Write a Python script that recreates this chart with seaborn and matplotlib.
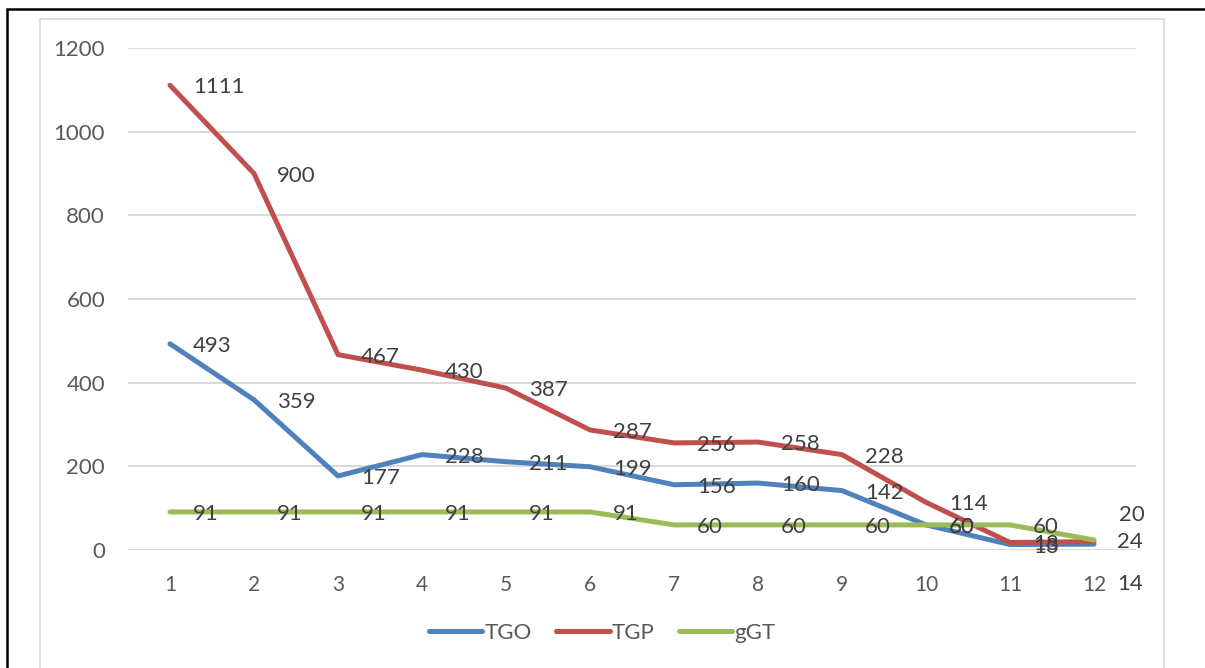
import pandas as pd
import matplotlib.pyplot as plt
import seaborn as sns
from matplotlib.patches import Rectangle

# data
months = list(range(1, 13))
tgo = [493, 359, 177, 228, 211, 199, 156, 160, 142, 60, 13, 14]
tgp = [1111, 900, 467, 430, 387, 287, 256, 258, 228, 114, 18, 20]
ggt = [91, 91, 91, 91, 91, 91, 60, 60, 60, 60, 60, 24]
series_names = ["TGO", "TGP", "gGT"]
colors = ["#4F81BD", "#C0504D", "#9BBB59"]

df = pd.concat([
    pd.DataFrame({"x": months, "value": tgo, "serie": "TGO"}),
    pd.DataFrame({"x": months, "value": tgp, "serie": "TGP"}),
    pd.DataFrame({"x": months, "value": ggt, "serie": "gGT"}),
], ignore_index=True)

sns.set_style("white")
plt.rcParams["font.family"] = ["Lato", "DejaVu Sans"]

fig = plt.figure(figsize=(12.05, 6.68), dpi=100)
ax = fig.add_axes([128 / 1205, 1 - 550 / 668, (1136 - 128) / 1205, (550 - 48) / 668])

# frames around the chart (black outer, light grey chart area)
fig.patches.append(Rectangle((7 / 1205, -0.1), 1.2, 1 - 9 / 668 + 0.1, transform=fig.transFigure,
                             fill=False, edgecolor="black", linewidth=1.8, zorder=0))
fig.patches.append(Rectangle((40 / 1205, -0.1), (1164 - 40) / 1205, 1 - 19 / 668 + 0.1,
                             transform=fig.transFigure, fill=False, edgecolor="#D9D9D9",
                             linewidth=1.2, zorder=0))

sns.lineplot(data=df, x="x", y="value", hue="serie", hue_order=series_names,
             palette=colors, linewidth=3.6, ax=ax, legend=True)

ax.set_xlim(0.5, 12.5)
ax.set_ylim(0, 1200)
ax.set_xticks(months)
ax.set_yticks(range(0, 1201, 200))
ax.tick_params(axis="both", length=0, labelcolor="#595959")
ax.tick_params(axis="y", pad=16.5, labelsize=16)
ax.tick_params(axis="x", pad=18, labelsize=15)
ax.grid(axis="y", color="#D9D9D9", linewidth=1.4)
ax.set_axisbelow(True)
for s in ax.spines.values():
    s.set_visible(False)
ax.set_xlabel("")
ax.set_ylabel("")

# data labels, to the right of each point
special = {("TGP", 12): (25, 27), ("TGO", 12): (23, -40)}
for name, vals in zip(series_names, [tgo, tgp, ggt]):
    for m, v in zip(months, vals):
        dx, dy = special.get((name, m), (23, -2))
        ax.annotate(str(v), (m, v), xytext=(dx, dy), textcoords="offset pixels",
                    ha="left", va="center", fontsize=16, color="#404040")

handles, labels = ax.get_legend_handles_labels()
ax.get_legend().remove()
for h in handles:
    h.set_solid_capstyle("round")
fig.legend(handles, labels, loc="center", bbox_to_anchor=(0.5, 1 - 633 / 668), ncol=3,
           frameon=False, fontsize=16, handlelength=2.4, handletextpad=0.1,
           columnspacing=1.1, labelcolor="#595959")

fig.savefig("out.png", dpi=100)
